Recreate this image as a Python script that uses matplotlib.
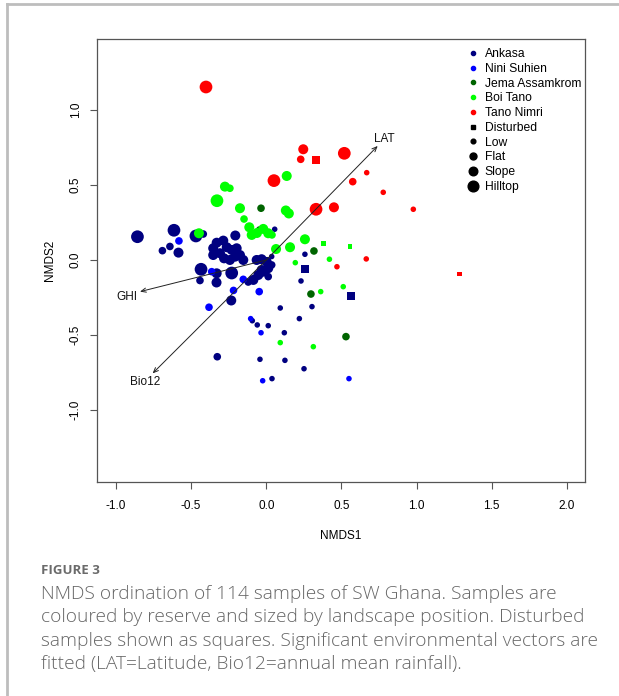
import matplotlib
matplotlib.use("Agg")
import matplotlib.pyplot as plt
from matplotlib.lines import Line2D
import numpy as np

# NMDS scores, one set of lists per reserve
# pos: landscape position (L=Low, F=Flat, S=Slope, H=Hilltop), dist: 1 = disturbed
ankasa_x = [-0.857, -0.614, -0.691, -0.641, -0.584, -0.468, -0.419, -0.206, 0.056, 0.036,
            -0.353, -0.330, -0.286, -0.263, -0.308, -0.353, -0.230, -0.197, -0.208, -0.175,
            -0.153, -0.242, -0.281,
            -0.434, -0.330, -0.441, -0.331, -0.230, -0.233,
            -0.064, -0.031, 0.003, 0.036, 0.013, -0.031, -0.053, -0.086, -0.120, 0.013, -0.020,
            0.257, 0.231, 0.304, 0.093, 0.220, -0.093, -0.060, 0.013, 0.120, -0.326, -0.042,
            0.124, 0.251, 0.038,
            0.257, 0.562]
ankasa_y = [0.155, 0.198, 0.062, 0.090, 0.049, 0.160, 0.173, 0.163, 0.205, 0.023,
            0.078, 0.115, 0.129, 0.085, 0.045, 0.033, 0.067, 0.078, 0.022, 0.033,
            0.000, 0.000, 0.011,
            -0.062, -0.089, -0.137, -0.150, -0.087, -0.270,
            0.000, 0.005, -0.013, -0.033, -0.055, -0.067, -0.100, -0.133, -0.147, -0.111, -0.078,
            0.038, -0.140, -0.311, -0.320, -0.391, -0.405, -0.433, -0.438, -0.485, -0.645, -0.662,
            -0.669, -0.725, -0.791,
            -0.062, -0.240]
ankasa_pos = ["H", "H", "F", "F", "S", "H", "F", "S", "L", "L",
              "S", "S", "S", "S", "S", "S", "S", "S", "S", "S",
              "S", "S", "S",
              "H", "S", "F", "S", "H", "S",
              "S", "S", "S", "F", "S", "S", "S", "S", "F", "F", "S",
              "L", "L", "L", "L", "L", "L", "L", "L", "L", "F", "L",
              "L", "L", "L",
              "F", "F"]
ankasa_dist = [0] * 54 + [1, 1]

nini_x = [-0.581, -0.363, -0.153, -0.218, -0.047, -0.381, -0.104, -0.035, -0.024, 0.550]
nini_y = [0.127, -0.078, -0.129, -0.203, -0.211, -0.315, -0.391, -0.485, -0.805, -0.791]
nini_pos = ["F", "F", "F", "F", "F", "F", "L", "L", "L", "L"]
nini_dist = [0] * 10

jema_x = [-0.035, -0.044, 0.317, 0.297, 0.530]
jema_y = [0.345, 0.200, 0.060, -0.227, -0.511]
jema_pos = ["F", "F", "F", "F", "F"]
jema_dist = [0] * 5

boi_x = [-0.275, -0.242, -0.328, -0.175, -0.148, 0.136, 0.130, 0.150, -0.448,
         -0.113, -0.097, -0.062, -0.020, 0.013, 0.038,
         0.257, 0.158, 0.065, 0.193, 0.420, 0.512, 0.362, 0.093, 0.313,
         0.379, 0.557]
boi_y = [0.489, 0.478, 0.395, 0.345, 0.273, 0.560, 0.330, 0.310, 0.178,
         0.218, 0.167, 0.180, 0.207, 0.178, 0.167,
         0.138, 0.085, 0.073, -0.018, 0.005, -0.178, -0.211, -0.551, -0.578,
         0.111, 0.089]
boi_pos = ["S", "F", "H", "S", "F", "S", "S", "S", "S",
           "S", "S", "S", "S", "S", "F",
           "S", "S", "S", "L", "L", "L", "L", "L", "L",
           "L", "L"]
boi_dist = [0] * 24 + [1, 1]

tano_x = [-0.401, 0.246, 0.229, 0.329, 0.519, 0.668, 0.575, 0.778, 0.978,
          0.051, 0.331, 0.450, 0.470, 0.665, 1.284]
tano_y = [1.153, 0.738, 0.671, 0.667, 0.711, 0.582, 0.522, 0.451, 0.338,
          0.529, 0.338, 0.351, -0.045, 0.007, -0.093]
tano_pos = ["H", "S", "F", "F", "H", "L", "F", "L", "L",
            "H", "H", "S", "L", "L", "L"]
tano_dist = [0, 0, 0, 1, 0, 0, 0, 0, 0, 0, 0, 0, 0, 0, 1]

reserves = ["Ankasa", "Nini Suhien", "Jema Assamkrom", "Boi Tano", "Tano Nimri"]
reserve_cols = ["#000080", "#0000ff", "#006400", "#00ff00", "#ff0000"]

# fitted environmental vectors
vec_names = ["LAT", "GHI", "Bio12"]
vec_x = [0.741, -0.840, -0.756]
vec_y = [0.760, -0.211, -0.756]
lab_x = [0.785, -0.929, -0.807]
lab_y = [0.805, -0.245, -0.811]

circle_size = {"L": 16, "F": 30, "S": 52, "H": 84}
square_size = {"L": 11, "F": 34, "S": 52, "H": 84}

plot_font = "Liberation Sans"

fig = plt.figure(figsize=(6.19, 6.96), dpi=100)
ax = fig.add_axes([97 / 619, 1 - 482.3 / 696, 488 / 619, 443.6 / 696])

groups = [(ankasa_x, ankasa_y, ankasa_pos, ankasa_dist),
          (nini_x, nini_y, nini_pos, nini_dist),
          (jema_x, jema_y, jema_pos, jema_dist),
          (boi_x, boi_y, boi_pos, boi_dist),
          (tano_x, tano_y, tano_pos, tano_dist)]

for (gx, gy, gp, gd), col in zip(groups, reserve_cols):
    gx = np.array(gx); gy = np.array(gy); gd = np.array(gd)
    circ = gd == 0
    sz = np.array([circle_size[p] for p in gp])
    ssz = np.array([square_size[p] for p in gp])
    ax.scatter(gx[circ], gy[circ], s=sz[circ], c=col, marker="o", linewidths=0, zorder=2)
    ax.scatter(gx[~circ], gy[~circ], s=ssz[~circ], c=col, marker="s", linewidths=0, zorder=2)

for name, vx, vy, lx, ly in zip(vec_names, vec_x, vec_y, lab_x, lab_y):
    ax.annotate("", xy=(vx, vy), xytext=(0, 0),
                arrowprops=dict(arrowstyle="->,head_length=0.35,head_width=0.15",
                                color="#222222", lw=0.7, shrinkA=0, shrinkB=0), zorder=3)
    ax.text(lx, ly, name, ha="center", va="center", fontsize=8.5,
            family=plot_font, color="#111111")

ax.set_xlim(-1.126, 2.12)
ax.set_ylim(-1.482, 1.475)
ax.set_xticks([-1.0, -0.5, 0.0, 0.5, 1.0, 1.5, 2.0])
ax.set_yticks([-1.0, -0.5, 0.0, 0.5, 1.0])
ax.set_xticklabels(["-1.0", "-0.5", "0.0", "0.5", "1.0", "1.5", "2.0"], family=plot_font, fontsize=8.5)
ax.set_yticklabels(["-1.0", "-0.5", "0.0", "0.5", "1.0"], family=plot_font, fontsize=8.5,
                   rotation=90, va="center")
ax.tick_params(direction="out", length=5, width=0.8, color="#555555", pad=8)
ax.tick_params(axis="y", pad=6)
for sp in ax.spines.values():
    sp.set_color("#555555")
    sp.set_linewidth(0.9)
ax.set_xlabel("NMDS1", family=plot_font, fontsize=8.5, labelpad=13)
ax.set_ylabel("NMDS2", family=plot_font, fontsize=8.5, labelpad=10)

# legend
handles = [Line2D([], [], ls="", marker="o", ms=3.0, mfc=c, mec=c) for c in reserve_cols]
handles.append(Line2D([], [], ls="", marker="s", ms=2.6, mfc="black", mec="black"))
for ms in [3.4, 5.0, 6.2, 7.7]:
    handles.append(Line2D([], [], ls="", marker="o", ms=ms, mfc="black", mec="black"))
labels = reserves + ["Disturbed", "Low", "Flat", "Slope", "Hilltop"]
ax.legend(handles, labels, loc="upper left", bbox_to_anchor=(467 / 619, 1 - 48 / 696),
          bbox_transform=fig.transFigure, frameon=False, handlelength=1.0,
          handletextpad=0.45, labelspacing=0.23, borderpad=0, borderaxespad=0,
          prop=dict(family=plot_font, size=8.7))

# panel frame lines (top and left)
fig.add_artist(Line2D([7 / 619, 1], [1 - 4 / 696, 1 - 4 / 696], transform=fig.transFigure,
                      color="#bdbdbd", lw=2))
fig.add_artist(Line2D([7 / 619, 7 / 619], [0, 1 - 4 / 696], transform=fig.transFigure,
                      color="#bdbdbd", lw=2))

# caption
cap_font = ["Open Sans", "DejaVu Sans"]
fig.text(41 / 619, 1 - 571 / 696, "FIGURE 3", fontsize=9.5, color="#6b6b6b",
         family=cap_font, weight="bold", va="center")
cap_lines = ["NMDS ordination of 114 samples of SW Ghana. Samples are",
             "coloured by reserve and sized by landscape position. Disturbed",
             "samples shown as squares. Significant environmental vectors are",
             "fitted (LAT=Latitude, Bio12=annual mean rainfall)."]
for i, line in enumerate(cap_lines):
    fig.text(41 / 619, 1 - (594 + 23.3 * i) / 696, line, fontsize=13.8, color="#666666",
             family=cap_font, weight="light", va="center")

fig.savefig("out.png", dpi=100)
